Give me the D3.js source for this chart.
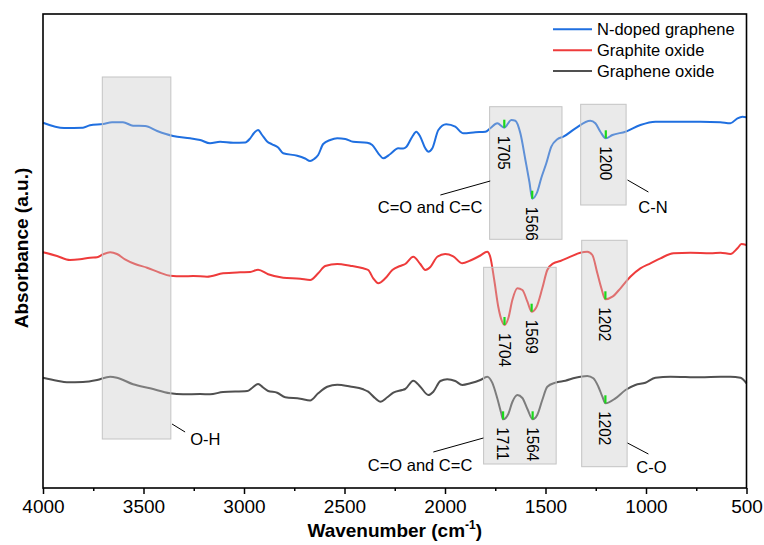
<!DOCTYPE html>
<html>
<head>
<meta charset="utf-8">
<script src="https://cdn.jsdelivr.net/npm/d3@7"></script>
<style>
  body { margin: 0; background: #fff; }
  svg { display: block; }
  text { font-family: "Liberation Sans", Arial, sans-serif; fill: #000; }
</style>
</head>
<body>
<svg id="chart"></svg>
<script>
// spectra: [wavenumber (cm-1), absorbance (a.u., offset)]
const nDopedGraphene = [
  [4000, 3.653], [3895, 3.60], [3801, 3.603], [3766, 3.627], [3701, 3.64], [3656, 3.657],
  [3602, 3.657], [3552, 3.623], [3492, 3.62], [3432, 3.57], [3353, 3.52], [3268, 3.497],
  [3218, 3.48], [3169, 3.447], [3119, 3.463], [3054, 3.453], [2994, 3.455], [2969, 3.497],
  [2950, 3.55], [2930, 3.58], [2910, 3.53], [2885, 3.465], [2860, 3.437], [2830, 3.405],
  [2805, 3.347], [2735, 3.323], [2696, 3.295], [2671, 3.27], [2651, 3.29], [2631, 3.33],
  [2606, 3.44], [2571, 3.48], [2536, 3.497], [2496, 3.49], [2457, 3.463], [2387, 3.453],
  [2362, 3.43], [2332, 3.347], [2307, 3.297], [2272, 3.34], [2233, 3.397], [2208, 3.395],
  [2193, 3.41], [2163, 3.513], [2143, 3.563], [2123, 3.513], [2098, 3.397], [2083, 3.363],
  [2063, 3.397], [2033, 3.58], [1994, 3.637], [1949, 3.613], [1909, 3.547], [1849, 3.557],
  [1799, 3.563], [1775, 3.597], [1740, 3.647], [1705, 3.603], [1670, 3.68], [1650, 3.673],
  [1625, 3.547], [1600, 3.28], [1580, 3.06], [1566, 2.893], [1541, 2.96], [1521, 3.10],
  [1496, 3.247], [1471, 3.413], [1441, 3.487], [1411, 3.513], [1351, 3.597], [1277, 3.673],
  [1252, 3.647], [1227, 3.563], [1200, 3.497], [1167, 3.53], [1102, 3.563], [1028, 3.63],
  [953, 3.663], [829, 3.663], [729, 3.663], [630, 3.657], [580, 3.647], [545, 3.697],
  [520, 3.713], [500, 3.707]
];

const graphiteOxide = [
  [4000, 2.357], [3930, 2.32], [3866, 2.28], [3816, 2.287], [3766, 2.303], [3731, 2.307],
  [3701, 2.337], [3666, 2.357], [3632, 2.34], [3592, 2.287], [3542, 2.24], [3482, 2.203],
  [3418, 2.153], [3368, 2.123], [3303, 2.117], [3253, 2.12], [3184, 2.113], [3104, 2.147],
  [3019, 2.157], [2969, 2.16], [2930, 2.183], [2880, 2.137], [2805, 2.103], [2720, 2.093],
  [2671, 2.08], [2631, 2.147], [2596, 2.22], [2536, 2.24], [2472, 2.223], [2407, 2.197],
  [2382, 2.18], [2357, 2.097], [2332, 2.047], [2297, 2.097], [2262, 2.18], [2223, 2.22],
  [2198, 2.24], [2158, 2.313], [2123, 2.24], [2098, 2.18], [2073, 2.21], [2038, 2.313],
  [1999, 2.34], [1959, 2.317], [1914, 2.247], [1874, 2.275], [1824, 2.325], [1790, 2.363],
  [1775, 2.313], [1755, 2.08], [1735, 1.813], [1717, 1.67], [1704, 1.63], [1685, 1.697],
  [1665, 1.88], [1640, 1.997], [1615, 1.98], [1590, 1.863], [1569, 1.763], [1546, 1.805],
  [1516, 1.997], [1491, 2.18], [1461, 2.247], [1426, 2.27], [1376, 2.313], [1327, 2.353],
  [1292, 2.363], [1267, 2.33], [1242, 2.147], [1222, 1.997], [1202, 1.887], [1167, 1.913],
  [1127, 1.997], [1078, 2.113], [1028, 2.197], [978, 2.247], [928, 2.297], [863, 2.347],
  [779, 2.353], [679, 2.347], [629, 2.353], [580, 2.34], [545, 2.397], [525, 2.44],
  [500, 2.43]
];

const grapheneOxide = [
  [4000, 1.103], [3930, 1.073], [3881, 1.057], [3801, 1.06], [3731, 1.08], [3666, 1.113],
  [3632, 1.103], [3552, 1.037], [3467, 0.997], [3368, 0.947], [3303, 0.937], [3218, 0.94],
  [3169, 0.937], [3104, 0.96], [2984, 0.97], [2960, 1.00], [2930, 1.04], [2905, 1.005],
  [2880, 0.97], [2835, 0.953], [2795, 0.907], [2720, 0.893], [2671, 0.875], [2631, 0.947],
  [2586, 1.013], [2536, 1.033], [2472, 1.015], [2407, 0.987], [2382, 0.963], [2347, 0.897],
  [2322, 0.863], [2287, 0.907], [2257, 0.953], [2213, 0.98], [2198, 0.99], [2158, 1.073],
  [2123, 1.013], [2083, 0.93], [2058, 0.963], [2023, 1.07], [1989, 1.087], [1949, 1.07],
  [1914, 1.03], [1874, 1.047], [1824, 1.08], [1790, 1.113], [1765, 1.053], [1740, 0.897],
  [1720, 0.747], [1711, 0.687], [1685, 0.74], [1665, 0.86], [1640, 0.93], [1615, 0.90],
  [1590, 0.79], [1564, 0.687], [1541, 0.73], [1516, 0.88], [1491, 1.013], [1451, 1.053],
  [1401, 1.073], [1351, 1.103], [1292, 1.12], [1262, 1.097], [1237, 1.013], [1217, 0.913],
  [1202, 0.847], [1152, 0.897], [1102, 0.98], [1053, 1.03], [1003, 1.053], [953, 1.103],
  [878, 1.113], [729, 1.107], [629, 1.113], [580, 1.113], [530, 1.103], [500, 1.047]
];

const seriesNames = ['N-doped graphene', 'Graphite oxide', 'Graphene oxide'];
const seriesColors = ['#1f6fe0', '#ee3b3b', '#505050'];
const seriesData = [nDopedGraphene, graphiteOxide, grapheneOxide];

// labelled band minima: [series index, wavenumber]
const peakMarks = [
  [0, 1705], [0, 1566], [0, 1200],
  [1, 1704], [1, 1569], [1, 1202],
  [2, 1711], [2, 1564], [2, 1202]
];

// shaded regions: [wavenumber from, wavenumber to, a.u. top, a.u. bottom]
const bands = [
  [3705, 3364, 4.11, 0.49],
  [1778, 1418, 3.813, 2.487],
  [1325, 1099, 3.837, 2.83],
  [1808, 1447, 2.207, 0.24],
  [1320, 1094, 2.477, 0.213]
];

// band names: text, leader line [w1, v1, w2, v2], text anchor point [w, v], anchor
const bandNotes = [
  ['O-H', [3358, 0.64, 3293, 0.56], [3268, 0.43], 'start'],
  ['C=O and C=C', [1775, 3.07, 2023, 2.93], [1814, 2.75], 'end'],
  ['C-N', [1092, 3.08, 988, 2.96], [1038, 2.75], 'start'],
  ['C=O and C=C', [1809, 0.50, 2058, 0.36], [1864, 0.17], 'end'],
  ['C-O', [1092, 0.45, 988, 0.34], [1048, 0.15], 'start']
];

const xMajor = [4000, 3500, 3000, 2500, 2000, 1500, 1000, 500];
const xMinor = [3750, 3250, 2750, 2250, 1750, 1250, 750];

const W = 764, H = 545;
const margin = { top: 14, right: 17.5, bottom: 57, left: 43 };
const width = W - margin.left - margin.right;
const height = H - margin.top - margin.bottom;

const svg = d3.select('#chart').attr('width', W).attr('height', H);
const g = svg.append('g').attr('transform', `translate(${margin.left},${margin.top})`);

const x = d3.scaleLinear().domain([4000, 500]).range([0, width]);
const y = d3.scaleLinear().domain([0, 4.74]).range([height, 0]);

const line = d3.line()
  .x((d) => x(d[0]))
  .y((d) => y(d[1]))
  .curve(d3.curveMonotoneX);

// spectra
seriesData.forEach((data, i) => {
  g.append('path')
    .datum(data)
    .attr('d', line)
    .attr('fill', 'none')
    .attr('stroke', seriesColors[i])
    .attr('stroke-width', 2)
    .attr('stroke-linejoin', 'round');
});

// shaded bands (drawn over the curves, semi transparent)
g.selectAll('.band')
  .data(bands)
  .join('rect')
  .attr('x', (d) => x(d[0]))
  .attr('y', (d) => y(d[2]))
  .attr('width', (d) => x(d[1]) - x(d[0]))
  .attr('height', (d) => y(d[3]) - y(d[2]))
  .attr('fill', 'rgb(200,200,200)')
  .attr('fill-opacity', 0.38)
  .attr('stroke', '#c4c4c4')
  .attr('stroke-width', 1);

// leader lines + band names
bandNotes.forEach(([txt, l, p, anchor]) => {
  g.append('line')
    .attr('x1', x(l[0])).attr('y1', y(l[1]))
    .attr('x2', x(l[2])).attr('y2', y(l[3]))
    .attr('stroke', '#000')
    .attr('stroke-width', 1);
  g.append('text')
    .attr('x', x(p[0]))
    .attr('y', y(p[1]))
    .attr('text-anchor', anchor)
    .attr('font-size', '16.5px')
    .text(txt);
});

// green markers + rotated wavenumber labels
peakMarks.forEach(([s, wn]) => {
  const pt = seriesData[s].find((d) => d[0] === wn);
  const px = x(wn), py = y(pt[1]);
  g.append('line')
    .attr('x1', px).attr('x2', px)
    .attr('y1', py).attr('y2', py - 8)
    .attr('stroke', '#19d919')
    .attr('stroke-width', 2.2);
  g.append('text')
    .attr('transform', `translate(${px},${py + 8}) rotate(90) scale(0.9,1)`)
    .attr('dy', '0.35em')
    .attr('font-size', '17px')
    .text(wn);
});

// x axis, major + minor
const xAxis = g.append('g')
  .attr('transform', `translate(0,${height})`)
  .call(d3.axisBottom(x).tickValues(xMajor).tickSize(6).tickPadding(6).tickFormat(d3.format('d')));
xAxis.select('.domain').remove();
xAxis.selectAll('line').attr('stroke', '#000').attr('stroke-width', 1.5);
xAxis.selectAll('text').attr('font-size', '19px').attr('font-family', '"Liberation Sans", Arial, sans-serif');

const xMinorAxis = g.append('g')
  .attr('transform', `translate(0,${height})`)
  .call(d3.axisBottom(x).tickValues(xMinor).tickSize(3).tickFormat(''));
xMinorAxis.select('.domain').remove();
xMinorAxis.selectAll('line').attr('stroke', '#000').attr('stroke-width', 1.5);

// frame
g.append('rect')
  .attr('width', width)
  .attr('height', height)
  .attr('fill', 'none')
  .attr('stroke', '#000')
  .attr('stroke-width', 1.6);

// axis titles
const xTitle = svg.append('text')
  .attr('x', margin.left + width / 2)
  .attr('y', 537)
  .attr('text-anchor', 'middle')
  .attr('font-size', '19px')
  .attr('font-weight', 'bold');
xTitle.append('tspan').text('Wavenumber (cm');
xTitle.append('tspan').attr('dy', -8).attr('font-size', '12px').text('-1');
xTitle.append('tspan').attr('dy', 8).text(')');

svg.append('text')
  .attr('transform', `translate(28,248) rotate(-90)`)
  .attr('text-anchor', 'middle')
  .attr('font-size', '19px')
  .attr('font-weight', 'bold')
  .text('Absorbance (a.u.)');

// legend
const legend = svg.append('g').attr('transform', 'translate(553,29.3)');
seriesNames.forEach((name, i) => {
  const row = legend.append('g').attr('transform', `translate(0,${i * 20.85})`);
  row.append('line')
    .attr('x1', 0).attr('x2', 39)
    .attr('stroke', seriesColors[i])
    .attr('stroke-width', 2);
  row.append('text')
    .attr('x', 44)
    .attr('dy', '0.36em')
    .attr('font-size', '16.5px')
    .text(name);
});
</script>
</body>
</html>
